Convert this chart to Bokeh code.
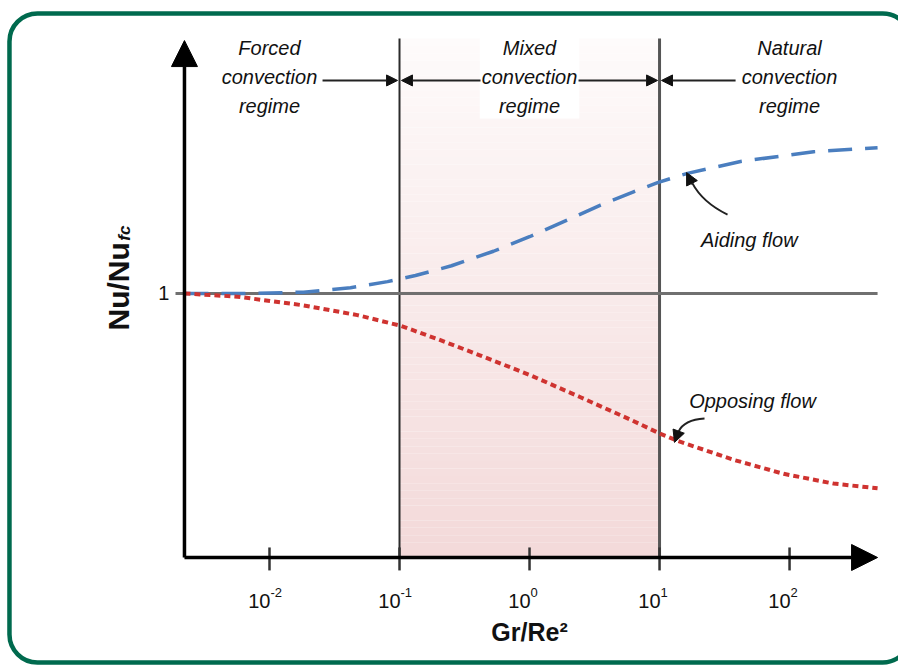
import numpy as np
from bokeh.plotting import figure
from bokeh.models import Range1d, Arrow, NormalHead, BoxAnnotation
from bokeh.core.properties import value
from bokeh.embed import file_html
from bokeh.resources import INLINE

# Regime boundaries (Gr/Re^2)
forced_limit = 0.1
natural_limit = 10.0

# Nu/Nu_fc against log10(Gr/Re^2) for the two buoyancy cases
aiding_exp = [-2.654, -2.2, -1.738, -1.377, -1.092, -0.877, -0.6, -0.277, 0.0,
              0.3, 0.546, 0.8, 0.985, 1.215, 1.623, 2.185, 2.677]
aiding_nu = [1.0, 1.0, 1.005, 1.022, 1.045, 1.068, 1.105, 1.16, 1.215,
             1.28, 1.335, 1.385, 1.42, 1.455, 1.50, 1.537, 1.552]
opposing_exp = [-2.654, -2.246, -1.738, -1.323, -0.992, -0.7, -0.377, 0.008,
                0.392, 0.777, 1.008, 1.138, 1.569, 1.954, 2.338, 2.677]
opposing_nu = [1.0, 0.988, 0.955, 0.918, 0.878, 0.826, 0.765, 0.690,
               0.607, 0.522, 0.468, 0.442, 0.370, 0.317, 0.280, 0.262]

tick_exps = [-2, -1, 0, 1, 2]
tick_sups = ["-2", "-1", "0", "1", "2"]
regime_names = ["Forced\nconvection\nregime",
                "Mixed\nconvection\nregime",
                "Natural\nconvection\nregime"]
regime_exps = [-2, 0, 2]

aiding_x = [10 ** e for e in aiding_exp]
opposing_x = [10 ** e for e in opposing_exp]
tick_x = [10 ** e for e in tick_exps]
regime_x = [10 ** e for e in regime_exps]

x_start, x_end = 10 ** -2.654, 10 ** 2.677   # drawn extent of the Gr/Re^2 axis
y_end = 1.958                                 # tip of the Nu/Nu_fc axis
bound_top = 1.966                             # top of the regime boundary lines
header_y = 1.82
header_arrow_y = 1.807

SANS = value("Liberation Sans")
INK = "#111111"

p = figure(width=898, height=666, x_axis_type="log",
           x_range=Range1d(10 ** -4.069, 10 ** 2.838),
           y_range=Range1d(-0.4129, 2.1098),
           x_axis_location=None, y_axis_location=None,
           output_backend="svg", toolbar_location=None, title=None,
           min_border=0)
p.min_border_left = p.min_border_right = 0
p.min_border_top = p.min_border_bottom = 0
p.grid.visible = False
p.outline_line_color = None
p.background_fill_color = "white"
p.border_fill_color = "white"

# Mixed-convection band, fading from white at the top to pale rose at the axis
n_bands = 70
edges = np.linspace(0.0, bound_top, n_bands + 1)
top_rgb = np.array([254, 251, 251])
bot_rgb = np.array([243, 217, 217])
band_colors = []
for k in range(n_bands):
    t = (edges[k] + edges[k + 1]) / 2 / bound_top
    c = bot_rgb + (top_rgb - bot_rgb) * t
    band_colors.append("#%02x%02x%02x" % tuple(int(round(v)) for v in c))
p.quad(left=forced_limit, right=natural_limit, bottom=edges[:-1], top=edges[1:],
       fill_color=band_colors, line_color=None)

# Regime boundaries
p.segment(x0=[forced_limit], y0=[0], x1=[forced_limit], y1=[bound_top],
          line_color="#2b2b2b", line_width=2)
p.segment(x0=[natural_limit], y0=[0], x1=[natural_limit], y1=[bound_top],
          line_color="#555555", line_width=3)

# Reference level Nu = Nu_fc
p.segment(x0=[10 ** -2.723], y0=[1], x1=[x_end], y1=[1],
          line_color="#707070", line_width=3)

# Curves
p.line(aiding_x, aiding_nu, line_color="#4a7ebf", line_width=3.5,
       line_dash="24 13")
p.line(opposing_x, opposing_nu, line_color="#cf3330", line_width=4,
       line_dash="6 4")

# Axes with arrow heads
p.add_layout(Arrow(x_start=x_start, y_start=0, x_end=x_start, y_end=y_end,
                   line_color="black", line_width=3.5,
                   end=NormalHead(size=26, fill_color="black", line_color="black")))
p.add_layout(Arrow(x_start=x_start, y_start=0, x_end=x_end, y_end=0,
                   line_color="black", line_width=3.5,
                   end=NormalHead(size=26, fill_color="black", line_color="black")))

# Decade ticks crossing the horizontal axis
p.segment(x0=tick_x, y0=[0.038] * len(tick_x), x1=tick_x, y1=[-0.049] * len(tick_x),
          line_color="#333333", line_width=2.5)
p.text(x=tick_x, y=[-0.163] * len(tick_x), text=["10"] * len(tick_x),
       text_align="right", text_baseline="middle", x_offset=1,
       text_font=SANS, text_font_size="20px", text_color=INK)
p.text(x=tick_x, y=[-0.163] * len(tick_x), text=tick_sups,
       text_align="left", text_baseline="middle", x_offset=1, y_offset=-8,
       text_font=SANS, text_font_size="13px", text_color=INK)

# Tick on the vertical axis
p.text(x=[x_start], y=[1], text=["1"], text_align="right", text_baseline="middle",
       x_offset=-15, text_font=SANS, text_font_size="20px", text_color=INK)

# Axis titles
p.text(x=[1.0], y=[-0.284], text=["Gr/Re²"], text_align="center",
       text_baseline="middle", text_font=SANS, text_font_style="bold",
       text_font_size="25px", text_color=INK)
p.text(x=[x_start], y=[0.86], text=["Nu/Nu"], angle=np.pi / 2,
       text_align="left", text_baseline="alphabetic", x_offset=-66,
       text_font=SANS, text_font_style="bold", text_font_size="30px",
       text_color=INK)
p.text(x=[x_start], y=[1.2], text=["fc"], angle=np.pi / 2,
       text_align="left", text_baseline="alphabetic", x_offset=-60,
       text_font=SANS, text_font_style="bold italic", text_font_size="17px",
       text_color=INK)

# Regime headers and their boundary arrows
def small_head():
    return NormalHead(size=11, fill_color=INK, line_color=INK)
for xs, xe in [(10 ** -1.592, 10 ** -1.015), (10 ** -0.377, 10 ** -0.985),
               (10 ** 0.377, 10 ** 0.985), (10 ** 1.585, 10 ** 1.015)]:
    p.add_layout(Arrow(x_start=xs, y_start=header_arrow_y, x_end=xe,
                       y_end=header_arrow_y, end=small_head(),
                       line_color="#222222", line_width=2))

p.text(x=regime_x, y=[header_y] * 3, text=regime_names, text_align="center",
       text_baseline="middle", text_line_height=1.3, text_font=SANS,
       text_font_style="italic", text_font_size="20px", text_color=INK,
       background_fill_color="white", padding=2)

# Curve call-outs
p.quadratic(x0=[10 ** 1.523], y0=[1.299], x1=[10 ** 1.25], y1=[1.42],
            cx=[10 ** 1.33], cy=[1.345], line_color="#222222", line_width=2)
p.add_layout(Arrow(x_start=10 ** 1.254, y_start=1.413, x_end=10 ** 1.208,
                   y_end=1.458, line_color="#222222", line_width=2,
                   end=NormalHead(size=12, fill_color=INK, line_color=INK)))
p.text(x=[10 ** 1.69], y=[1.201], text=["Aiding flow"], text_align="center",
       text_baseline="middle", text_font=SANS, text_font_style="italic",
       text_font_size="20px", text_color=INK)

p.quadratic(x0=[10 ** 1.346], y0=[0.5265], x1=[10 ** 1.146], y1=[0.477],
            cx=[10 ** 1.19], cy=[0.522], line_color="#222222", line_width=2)
p.add_layout(Arrow(x_start=10 ** 1.146, y_start=0.477, x_end=10 ** 1.115,
                   y_end=0.436, line_color="#222222", line_width=2,
                   end=NormalHead(size=12, fill_color=INK, line_color=INK)))
p.text(x=[10 ** 1.715], y=[0.591], text=["Opposing flow"], text_align="center",
       text_baseline="middle", text_font=SANS, text_font_style="italic",
       text_font_size="20px", text_color=INK)

# Rounded green frame
p.add_layout(BoxAnnotation(left=10 ** -4.0, right=10 ** 2.931, top=2.0606,
                           bottom=-0.3977, fill_alpha=0, fill_color=None,
                           line_color="#006a4e", line_alpha=1.0, line_width=4.5,
                           border_radius=28))

open("out.html", "w").write(file_html(p, INLINE))
